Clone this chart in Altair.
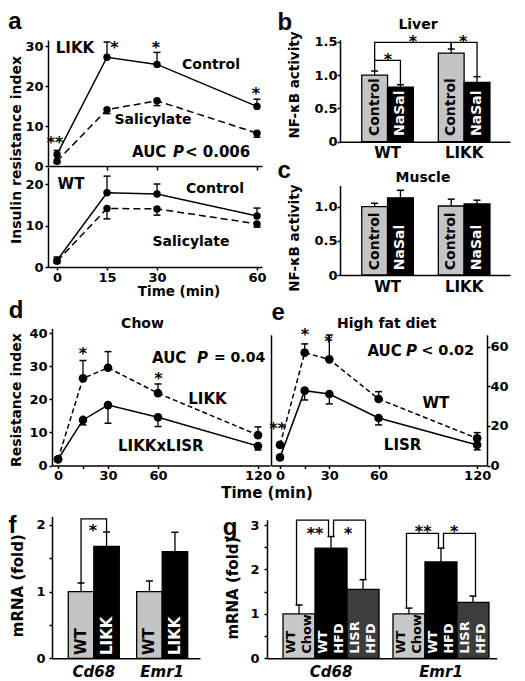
import altair as alt
import pandas as pd

# ================= values =================
# (a) insulin resistance index (mean, s.e.m.)
time_a = [0, 15, 30, 60]
a_likk_control = [2.9, 27.2, 25.4, 14.9]
a_likk_control_err = [1.0, 3.8, 3.0, 1.8]
a_likk_salicylate = [1.2, 14.1, 16.3, 8.2]
a_likk_salicylate_err = [0.5, 1.0, 1.2, 1.0]
a_wt_control = [1.6, 17.9, 17.6, 12.3]
a_wt_control_err = [0.8, 4.0, 2.4, 1.9]
a_wt_salicylate = [1.4, 14.1, 14.0, 10.4]
a_wt_salicylate_err = [0.5, 2.5, 1.5, 0.8]

# (b, c) NF-kB activity; order: WT-Control, WT-NaSal, LIKK-Control, LIKK-NaSal
genotypes = ["WT", "LIKK"]
treatments = ["Control", "NaSal"]
liver_mean = [1.00, 0.82, 1.33, 0.89]
liver_err = [0.06, 0.035, 0.06, 0.085]
muscle_mean = [1.00, 1.13, 1.01, 1.04]
muscle_err = [0.05, 0.11, 0.10, 0.055]

# (d, e) resistance index
time_de = [0, 15, 30, 60, 120]
d_likk = [1.9, 26.4, 29.6, 21.9, 9.2]
d_likk_err = [0.5, 5.4, 4.9, 2.8, 2.5]
d_likkxlisr = [1.9, 13.8, 18.3, 14.6, 5.9]
d_likkxlisr_err = [0.5, 1.5, 5.5, 2.8, 1.2]
e_wt = [10.4, 57.0, 53.6, 33.6, 13.7]
e_wt_err = [1.0, 4.4, 12.3, 3.7, 2.9]
e_lisr = [4.1, 37.8, 36.1, 24.0, 10.4]
e_lisr_err = [1.0, 4.7, 5.0, 3.5, 2.5]

# (f, g) mRNA (fold)
genes = ["Cd68", "Emr1"]
f_groups = ["WT", "LIKK"]
f_mean = [1.00, 1.68, 1.00, 1.60]
f_err = [0.13, 0.215, 0.16, 0.29]
g_groups = ["WT Chow", "WT HFD", "LISR HFD"]
g_bar_text = ["WT\nChow", "WT\nHFD", "LISR\nHFD"]
g_mean = [1.00, 2.48, 1.55, 1.00, 2.17, 1.26]
g_err = [0.20, 0.26, 0.22, 0.13, 0.31, 0.14]

# ================= layout helpers =================
PADL, PADB = 8, 8
MX, MY = 8 + PADL, 8          # page position of the view origin
W, H = 501, 665
FONT = "DejaVu Sans"
LETTER_FONT = "Liberation Sans"


def linx(dom, r):
    return alt.Scale(type="linear", domain=dom, range=[r[0] - MX, r[1] - MX], nice=False, zero=False)


def liny(dom, r):
    return alt.Scale(type="linear", domain=dom, range=[r[0] - MY, r[1] - MY], nice=False, zero=False)


def band(dom, r, pi, po, al):
    return alt.Scale(type="band", domain=dom, range=[r[0] - MX, r[1] - MX],
                     paddingInner=pi, paddingOuter=po, align=al, round=False)


def bw_of(n, r, pi, po):
    return (r[1] - r[0]) / (n - pi + 2 * po) * (1 - pi)


def off_scale(dom, bw, shift=0.0):
    return alt.Scale(type="band", domain=dom, range=[shift, bw + shift], paddingInner=0, paddingOuter=0)


def left_axis(px, values, expr=None, pad=2, **kw):
    a = dict(orient="left", offset=-(px - MX), values=values, title=None, labelPadding=pad)
    if expr:
        a["labelExpr"] = expr
    a.update(kw)
    return alt.Axis(**a)


def right_axis(px, values, pad=0, **kw):
    a = dict(orient="right", offset=(px - MX) - W, values=values, title=None, labelPadding=pad)
    a.update(kw)
    return alt.Axis(**a)


def bottom_axis(py, **kw):
    a = dict(orient="bottom", offset=(py - MY) - H, title=None, labelAngle=0)
    a.update(kw)
    return alt.Axis(**a)


def carrier(xs, ys, xaxis, yaxis):
    df = pd.DataFrame({"x": [0], "y": [0]})
    return alt.Chart(df).mark_point(opacity=0).encode(
        x=alt.X("x:Q", scale=xs, axis=xaxis),
        y=alt.Y("y:Q", scale=ys, axis=yaxis))


def series(t, mean, err, sign, xs, ys, dash=None, size=55):
    df = pd.DataFrame({"t": t, "v": mean, "e": [m + sign * s for m, s in zip(mean, err)]})
    X = alt.X("t:Q", scale=xs, axis=None)
    Y = alt.Y("v:Q", scale=ys, axis=None)
    base = alt.Chart(df)
    lk = dict(color="black", strokeWidth=1.5)
    if dash:
        lk["strokeDash"] = dash
    return [
        base.mark_line(**lk).encode(x=X, y=Y),
        base.mark_rule(color="black", strokeWidth=1.3).encode(x=X, y=Y, y2=alt.Y2("e")),
        base.mark_tick(color="black", orient="horizontal", size=7, thickness=1.5, opacity=1).encode(
            x=X, y=alt.Y("e:Q", scale=ys, axis=None)),
        base.mark_circle(color="black", size=size, opacity=1).encode(x=X, y=Y),
    ]


def texts(rows, xs, ys, size=14, align="center", angle=None, style="normal", dy=0,
          font=FONT, baseline="middle"):
    df = pd.DataFrame(rows, columns=["x", "y", "text"])
    kw = dict(font=font, fontSize=size, fontWeight="bold", fontStyle=style, align=align,
              baseline=baseline, color="black")
    if angle is not None:
        kw["angle"] = angle
    if dy:
        kw["dy"] = dy
    return alt.Chart(df).mark_text(**kw).encode(
        x=alt.X("x:Q", scale=xs, axis=None),
        y=alt.Y("y:Q", scale=ys, axis=None),
        text=alt.Text("text:N"))


def stars(rows, xs, ys):
    return texts(rows, xs, ys, size=16, dy=4)


def letter(rows, xs, ys):
    return texts(rows, xs, ys, size=24, font=LETTER_FONT)


def bar_layers(groups, treats, means, errs, xs, bw, ys, fills, text_colors, bar_text,
               text_y, text_size, xaxis, yaxis, line_height=None):
    rows = []
    i = 0
    for g in groups:
        for k, tr in enumerate(treats):
            rows.append({"group": g, "treat": tr, "v": means[i], "e": means[i] + errs[i],
                         "label": bar_text[k]})
            i += 1
    df = pd.DataFrame(rows)
    X = alt.X("group:N", scale=xs, axis=None)
    XO = alt.XOffset("treat:N", scale=off_scale(treats, bw))
    Y = alt.Y("v:Q", scale=ys, axis=None)
    out = [
        alt.Chart(df).mark_bar(stroke="black", strokeWidth=1.3, opacity=1).encode(
            x=alt.X("group:N", scale=xs, axis=xaxis), xOffset=XO,
            y=alt.Y("v:Q", scale=ys, axis=yaxis),
            fill=alt.Fill("treat:N", scale=alt.Scale(domain=treats, range=fills), legend=None)),
        alt.Chart(df).mark_rule(color="black", strokeWidth=1.3).encode(
            x=X, xOffset=XO, y=Y, y2=alt.Y2("e")),
        alt.Chart(df).mark_tick(color="black", orient="horizontal", size=7, thickness=1.5,
                                opacity=1).encode(
            x=X, xOffset=XO, y=alt.Y("e:Q", scale=ys, axis=None)),
    ]
    for k, tr in enumerate(treats):
        sub = df[df["treat"] == tr]
        kw = dict(angle=270, align="left", baseline="middle", color=text_colors[k], font=FONT,
                  fontWeight="bold", fontSize=text_size)
        if line_height:
            kw["lineBreak"] = "\n"
            kw["lineHeight"] = line_height
            kw["dy"] = -line_height / 2
        out.append(alt.Chart(sub).mark_text(**kw).encode(
            x=X, xOffset=XO,
            y=alt.YDatum(text_y, type="quantitative", scale=ys, axis=None),
            text=alt.Text("label:N")))
    return out


def brackets(items, xs, treats, bw, ys, shift=0.0):
    rows = []
    for bid, pts in enumerate(items):
        for o, (g, tr, y) in enumerate(pts):
            rows.append({"id": bid, "o": o, "group": g, "treat": tr, "y": y})
    return alt.Chart(pd.DataFrame(rows)).mark_line(color="black", strokeWidth=1.3).encode(
        x=alt.X("group:N", scale=xs, axis=None),
        xOffset=alt.XOffset("treat:N", scale=off_scale(treats, bw, shift)),
        y=alt.Y("y:Q", scale=ys, axis=None),
        detail=alt.Detail("id:N"),
        order=alt.Order("o:Q"))


layers = []

# ================= panel a =================
xa = linx([-2.7, 61.5], [48, 262])
ya1 = liny([0, 31.5], [166, 40])
ya2 = liny([0, 24.1], [267, 167])
layers.append(carrier(xa, ya1, bottom_axis(166, values=[15, 30, 60], labels=False, tickSize=4),
                      left_axis(48, [0, 10, 20, 30])))
layers.append(carrier(xa, ya2, bottom_axis(267, values=[0, 15, 30, 60], labelPadding=1),
                      left_axis(48, [0, 10, 20])))
layers += series(time_a, a_likk_control, a_likk_control_err, +1, xa, ya1)
layers += series(time_a, a_likk_salicylate, a_likk_salicylate_err, -1, xa, ya1, dash=[7, 4])
layers += series(time_a, a_wt_control, a_wt_control_err, +1, xa, ya2)
layers += series(time_a, a_wt_salicylate, a_wt_salicylate_err, -1, xa, ya2, dash=[7, 4])
layers.append(letter([(-12.6, 36.0, "a")], xa, ya1))
layers.append(texts([(5.4, 29.6, "LIKK")], xa, ya1, size=15))
layers.append(texts([(46.2, 25.25, "Control"), (28.8, 11.4, "Salicylate")], xa, ya1))
layers.append(texts([(22.5, 3.4, "AUC"), (38.4, 3.4, "< 0.006")], xa, ya1, size=15, align="left"))
layers.append(texts([(34.8, 3.4, "P")], xa, ya1, size=15, align="left", style="italic"))
layers.append(stars([(-0.6, 6.75, "**"), (17.25, 30.5, "*"), (29.7, 30.4, "*"), (59.7, 18.9, "*")], xa, ya1))
layers.append(texts([(4.2, 19.95, "WT")], xa, ya2, size=15))
layers.append(texts([(47.4, 18.8, "Control"), (40.2, 6.1, "Salicylate")], xa, ya2))
layers.append(texts([(36.6, -5.95, "Time (min)")], xa, ya2, size=13.5))
layers.append(texts([(-12.15, 28.2, "Insulin resistance index")], xa, ya2, angle=270))

# ================= panels b, c =================
BC_R = (340, 510)
BC_PI, BC_PO, BC_AL = 0.326, 0.273, 0.52
xbc = band(genotypes, BC_R, BC_PI, BC_PO, BC_AL)
bw_bc = bw_of(2, BC_R, BC_PI, BC_PO)
fbc = linx([0, 1], BC_R)
yb = liny([0, 1.53], [141.7, 39.7])
yc = liny([0, 1.31], [275, 185.5])
nf_expr = "datum.value == 0 ? '0' : format(datum.value, '.1f')"
band_xaxis = dict(ticks=False, tickSize=0, labelFontSize=15, labelPadding=4)
bc_fills = ["#c4c4c4", "#000000"]
bc_text = ["black", "white"]

layers += bar_layers(genotypes, treatments, liver_mean, liver_err, xbc, bw_bc, yb, bc_fills, bc_text,
                     treatments, 0.085, 14, bottom_axis(141.7, **band_xaxis),
                     left_axis(340, [0, 0.5, 1.0, 1.5], nf_expr, pad=0))
layers.append(brackets([
    [("WT", "Control", 1.06), ("WT", "Control", 1.22), ("WT", "NaSal", 1.22), ("WT", "NaSal", 0.86)],
    [("WT", "Control", 1.22), ("WT", "Control", 1.49), ("LIKK", "Control", 1.49), ("LIKK", "Control", 1.39)],
    [("LIKK", "Control", 1.39), ("LIKK", "Control", 1.49), ("LIKK", "NaSal", 1.49), ("LIKK", "NaSal", 0.985)],
], xbc, treatments, bw_bc, yb))
layers.append(stars([(0.282, 1.285, "*"), (0.429, 1.56, "*"), (0.724, 1.56, "*")], fbc, yb))
layers.append(letter([(-0.324, 1.78, "b")], fbc, yb))
layers.append(texts([(0.459, 1.75, "Liver")], fbc, yb))
layers.append(texts([(-0.265, 0.85, "NF-\u03baB activity")], fbc, yb, size=13.5, angle=270))

layers += bar_layers(genotypes, treatments, muscle_mean, muscle_err, xbc, bw_bc, yc, bc_fills, bc_text,
                     treatments, 0.07, 14, bottom_axis(275, **band_xaxis),
                     left_axis(340, [0, 0.5, 1.0], nf_expr, pad=0))
layers.append(letter([(-0.329, 1.52, "c")], fbc, yc))
layers.append(texts([(0.488, 1.42, "Muscle")], fbc, yc))
layers.append(texts([(-0.265, 0.54, "NF-\u03baB activity")], fbc, yc, size=13.5, angle=270))

# ================= panel d =================
xd = linx([-3.6, 127.2], [52, 270])
yd = liny([0, 41.5], [465.5, 328.5])
time_expr = "datum.value == 15 ? '' : datum.label"
layers.append(carrier(xd, yd, bottom_axis(465.5, values=[0, 15, 30, 60, 120], labelExpr=time_expr, labelPadding=1),
                      left_axis(52, [0, 10, 20, 30, 40])))
layers += series(time_de, d_likk, d_likk_err, +1, xd, yd, dash=[5, 3], size=75)
layers += series(time_de, d_likkxlisr, d_likkxlisr_err, -1, xd, yd, size=75)
layers.append(letter([(-25.2, 46.8, "d")], xd, yd))
layers.append(texts([(50.7, 42.9, "Chow")], xd, yd))
layers.append(texts([(56.4, 32.6, "AUC")], xd, yd, size=15, align="left"))
layers.append(texts([(93.6, 32.6, "= 0.04")], xd, yd, size=14, align="left"))
layers.append(texts([(83.4, 32.6, "P")], xd, yd, size=15, align="left", style="italic"))
layers.append(texts([(89.7, 20.2, "LIKK"), (61.7, 6.0, "LIKKxLISR")], xd, yd, size=15))
layers.append(stars([(15, 34.85, "*"), (60.2, 27.3, "*")], xd, yd))
layers.append(texts([(-24.9, 19.8, "Resistance index")], xd, yd, angle=270))
layers.append(texts([(125.4, -8.3, "Time (min)")], xd, yd, size=15))

# ================= panel e =================
xe = linx([-5.5, 126], [271, 487])
ye = liny([0, 66], [465.5, 334.8])
layers.append(carrier(xe, ye, bottom_axis(465.5, values=[0, 15, 30, 60, 120], labelExpr=time_expr, labelPadding=1),
                      right_axis(487, [0, 20, 40, 60])))
layers.append(carrier(xe, ye, None, left_axis(271, [0], ticks=False, labels=False)))
layers += series(time_de, e_wt, e_wt_err, +1, xe, ye, dash=[5, 3], size=75)
layers += series(time_de, e_lisr, e_lisr_err, -1, xe, ye, size=75)
layers.append(letter([(-1.2, 77, "e")], xe, ye))
layers.append(texts([(65, 71.5, "High fat diet")], xe, ye))
layers.append(texts([(53.2, 57.8, "AUC")], xe, ye, size=15, align="left"))
layers.append(texts([(85.9, 57.8, "< 0.02")], xe, ye, size=14.5, align="left"))
layers.append(texts([(76.7, 57.8, "P")], xe, ye, size=15, align="left", style="italic"))
layers.append(texts([(94.9, 31.8, "WT"), (74.6, 10.4, "LISR")], xe, ye, size=15))
layers.append(stars([(15.2, 68.1, "*"), (29.4, 64.2, "*"), (-1.5, 20.5, "**")], xe, ye))

# ================= panel f =================
F_R = (52, 200)
F_PI, F_PO, F_AL = 0.254, 0.209, 0.57
xf = band(genes, F_R, F_PI, F_PO, F_AL)
bw_f = bw_of(2, F_R, F_PI, F_PO)
ff = linx([0, 1], F_R)
yf = liny([0, 2.13], [658.3, 516.3])
fold_expr = "datum.value % 1 == 0 ? format(datum.value, 'd') : ''"
gene_axis = dict(ticks=False, tickSize=0, labelFontSize=15, labelPadding=6, labelFontStyle="italic")
layers += bar_layers(genes, f_groups, f_mean, f_err, xf, bw_f, yf, ["#c4c4c4", "#000000"], ["black", "white"],
                     f_groups, 0.05, 15, bottom_axis(658.3, **gene_axis),
                     left_axis(52, [0, 0.5, 1, 1.5, 2], fold_expr, pad=4))
layers.append(brackets([
    [("Cd68", "WT", 1.13), ("Cd68", "WT", 2.09), ("Cd68", "LIKK", 2.09), ("Cd68", "LIKK", 1.90)],
], xf, f_groups, bw_f, yf))
layers.append(stars([(0.277, 1.97, "*")], ff, yf))
layers.append(letter([(-0.267, 1.985, "f")], ff, yf))
layers.append(texts([(-0.23, 1.09, "mRNA (fold)")], ff, yf, size=15, angle=270))

# ================= panel g =================
G_R = (267, 496.7)
G_PI, G_PO, G_AL = 0.127, 0.108, 0.675
xg = band(genes, G_R, G_PI, G_PO, G_AL)
bw_g = bw_of(2, G_R, G_PI, G_PO)
fg = linx([0, 1], G_R)
yg = liny([0, 3.12], [658.3, 519.7])
layers += bar_layers(genes, g_groups, g_mean, g_err, xg, bw_g, yg, ["#c8c8c8", "#000000", "#3d3d3d"],
                     ["black", "white", "white"], g_bar_text, 0.1, 13, bottom_axis(658.3, **gene_axis),
                     left_axis(267, [0, 0.5, 1, 1.5, 2, 2.5, 3], fold_expr, pad=5), line_height=16)
layers.append(brackets([
    [("Cd68", "WT Chow", 1.20), ("Cd68", "WT Chow", 3.11), ("Cd68", "WT HFD", 3.11), ("Cd68", "WT HFD", 2.74)],
    [("Emr1", "WT Chow", 1.13), ("Emr1", "WT Chow", 2.81), ("Emr1", "WT HFD", 2.81), ("Emr1", "WT HFD", 2.48)],
], xg, g_groups, bw_g, yg, shift=-2.5))
layers.append(brackets([
    [("Cd68", "WT HFD", 2.74), ("Cd68", "WT HFD", 3.11), ("Cd68", "LISR HFD", 3.11), ("Cd68", "LISR HFD", 1.77)],
    [("Emr1", "WT HFD", 2.48), ("Emr1", "WT HFD", 2.81), ("Emr1", "LISR HFD", 2.81), ("Emr1", "LISR HFD", 1.40)],
], xg, g_groups, bw_g, yg, shift=2.5))
layers.append(stars([(0.209, 2.89, "**"), (0.353, 2.89, "*"), (0.680, 2.94, "**"), (0.815, 2.94, "*")], fg, yg))
layers.append(letter([(-0.161, 2.93, "g")], fg, yg))
layers.append(texts([(-0.148, 1.58, "mRNA (fold)")], fg, yg, size=15, angle=270))

chart = (
    alt.layer(*layers)
    .resolve_scale(x="independent", y="independent", xOffset="independent", fill="independent")
    .properties(width=W, height=H,
                padding={"left": PADL, "top": 0, "right": 0, "bottom": PADB},
                autosize=alt.AutoSizeParams(type="none"))
    .configure_view(strokeWidth=0)
    .configure_axis(labelFont=FONT, labelFontSize=13, labelFontWeight="bold", labelColor="black",
                    domainColor="black", domainWidth=1.5, tickColor="black", tickWidth=1.5, tickSize=3,
                    labelPadding=2, grid=False, labelFlush=False, labelOverlap=False)
)

chart.save("out.html", embed_options={"renderer": "svg", "actions": False})
